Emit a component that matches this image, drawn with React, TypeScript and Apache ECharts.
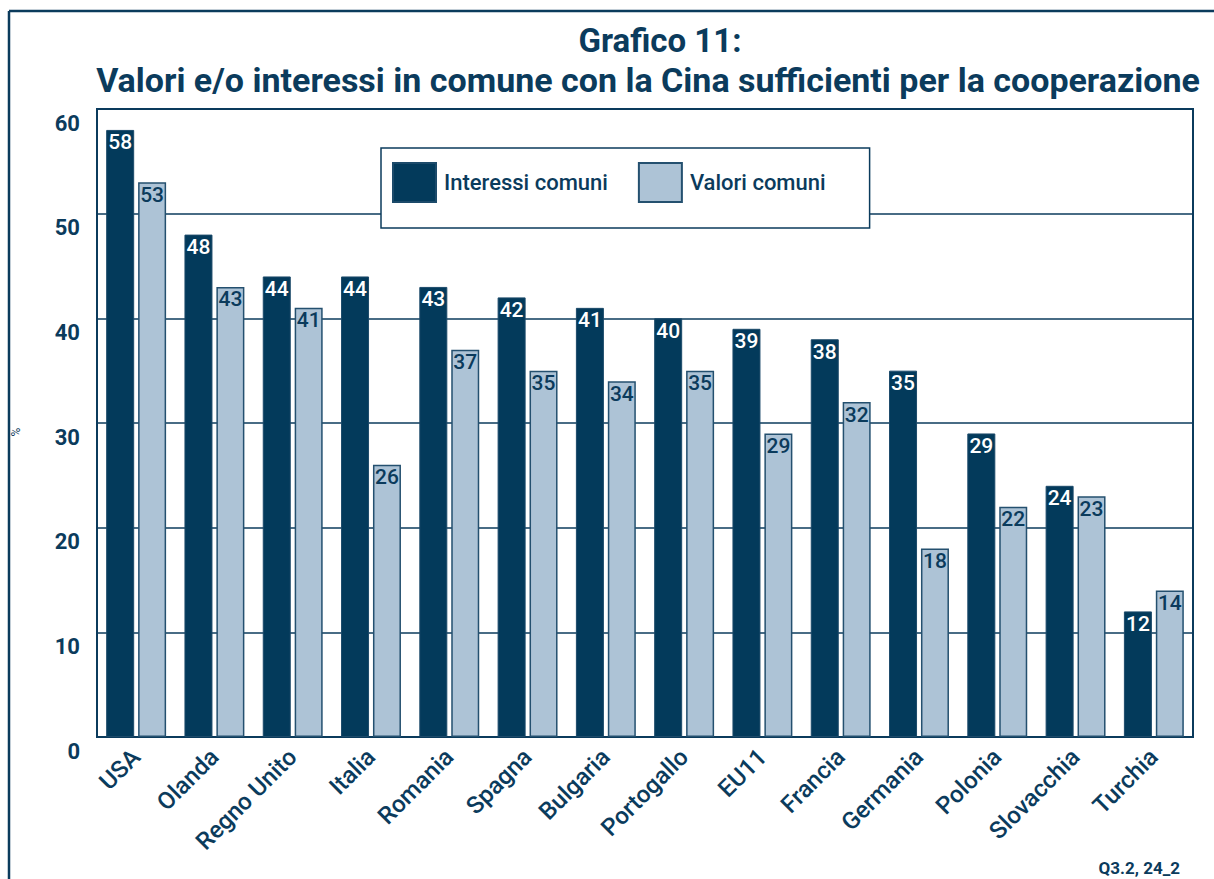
import React, { useEffect, useRef } from "react";
import * as echarts from "echarts";

const categories = [
  "USA", "Olanda", "Regno Unito", "Italia", "Romania", "Spagna", "Bulgaria",
  "Portogallo", "EU11", "Francia", "Germania", "Polonia", "Slovacchia", "Turchia",
];
const interessiComuni = [58, 48, 44, 44, 43, 42, 41, 40, 39, 38, 35, 29, 24, 12];
const valoriComuni = [53, 43, 41, 26, 37, 35, 34, 35, 29, 32, 18, 22, 23, 14];
const seriesNames = ["Interessi comuni", "Valori comuni"];
const yTicks = { min: 0, max: 60, interval: 10 };
const titleLine1 = "Grafico 11:";
const titleLine2 = "Valori e/o interessi in comune con la Cina sufficienti per la cooperazione";
const footnote = "Q3.2, 24_2";

const NAVY = "#033a5b";
const LIGHT = "#adc3d6";
const INK = "#0b3b5c";
const FONT = "Roboto, 'Liberation Sans', Arial, sans-serif";

export default function App() {
  const ref = useRef<HTMLDivElement>(null);
  useEffect(() => {
    document.body.style.margin = "0";
    const chart = echarts.init(ref.current!, null, { renderer: "svg" });
    chart.setOption({
      animation: false,
      backgroundColor: "#ffffff",
      textStyle: { fontFamily: FONT },
      grid: {
        left: 97, right: 21, top: 109, bottom: 142,
        show: true, borderColor: INK, borderWidth: 2, backgroundColor: "transparent",
      },
      legend: {
        left: 381, top: 148,
        orient: "horizontal",
        icon: "rect",
        itemWidth: 43, itemHeight: 39, itemGap: 30,
        padding: [14, 44, 25, 11],
        borderColor: INK, borderWidth: 1.5, backgroundColor: "#ffffff",
        textStyle: { color: INK, fontSize: 22, fontFamily: FONT, fontWeight: 500, padding: [0, 0, 0, 3] },
        data: seriesNames,
        z: 10,
      },
      xAxis: {
        type: "category",
        data: categories,
        axisLine: { lineStyle: { color: INK, width: 2 } },
        axisTick: { show: false },
        axisLabel: {
          interval: 0, rotate: 45, margin: 16,
          color: INK, fontSize: 24, fontFamily: FONT, fontWeight: 500,
        },
      },
      yAxis: {
        type: "value",
        min: yTicks.min, max: yTicks.max, interval: yTicks.interval,
        axisLine: { show: true, lineStyle: { color: INK, width: 2 } },
        axisTick: { show: false },
        splitLine: { lineStyle: { color: INK, width: 1.5 } },
        axisLabel: {
          color: INK, fontSize: 22, fontWeight: "bold", fontFamily: FONT,
          margin: 17, verticalAlign: "top", padding: [3, 0, 0, 0],
        },
      },
      series: [
        {
          name: seriesNames[0], type: "bar", data: interessiComuni,
          barWidth: 28, barGap: "14%",
          itemStyle: { color: NAVY, borderColor: "#1c4a6a", borderWidth: 1 },
          label: {
            show: true, position: "insideTop", distance: 2,
            color: "#ffffff", fontSize: 21, fontFamily: FONT, fontWeight: 500,
          },
        },
        {
          name: seriesNames[1], type: "bar", data: valoriComuni,
          barWidth: 28,
          itemStyle: { color: LIGHT, borderColor: "#24506f", borderWidth: 1.5 },
          label: {
            show: true, position: "insideTop", distance: 2,
            color: INK, fontSize: 21, fontFamily: FONT, fontWeight: 500,
          },
        },
      ],
      graphic: [
        {
          type: "text", x: 16, y: 432, rotation: Math.PI / 2,
          style: { text: "%", fill: INK, fontSize: 12, fontFamily: FONT, textAlign: "center", textVerticalAlign: "middle" },
        },
        { type: "line", shape: { x1: 9, y1: 11, x2: 9, y2: 879 }, style: { stroke: INK, lineWidth: 2.5 }, z: 6 },
        { type: "line", shape: { x1: 9, y1: 11, x2: 1214, y2: 11 }, style: { stroke: INK, lineWidth: 2.5 }, z: 6 },
        {
          type: "text", x: 660, y: 40,
          style: { text: titleLine1, fill: INK, fontSize: 33, fontWeight: "bold", fontFamily: FONT, textAlign: "center", textVerticalAlign: "middle" },
        },
        {
          type: "text", x: 648, y: 80,
          style: { text: titleLine2, fill: INK, fontSize: 34, fontWeight: "bold", fontFamily: FONT, textAlign: "center", textVerticalAlign: "middle" },
        },
        {
          type: "text", x: 1180, y: 868,
          style: { text: footnote, fill: INK, fontSize: 17, fontWeight: "bold", fontFamily: FONT, textAlign: "right", textVerticalAlign: "middle" },
        },
      ],
    });
    return () => chart.dispose();
  }, []);
  return <div ref={ref} style={{ width: 1214, height: 879 }} />;
}
